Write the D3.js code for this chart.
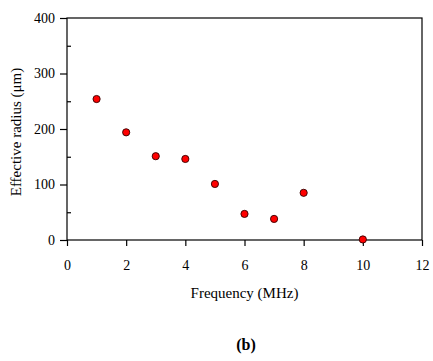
<!DOCTYPE html>
<html>
<head>
<meta charset="utf-8">
<script src="https://cdn.jsdelivr.net/npm/d3@7"></script>
<style>
  body { margin: 0; background: #fff; }
  svg text { font-family: "Liberation Serif", "Times New Roman", serif; }
</style>
</head>
<body>
<div id="chart"></div>
<script>
// Data
const frequency = [1, 2, 3, 4, 5, 6, 7, 8, 10];
const radius = [254, 194, 151, 146, 101, 47, 38, 85, 1];
const xTicks = [0, 2, 4, 6, 8, 10, 12];
const yTicks = [0, 100, 200, 300, 400];
const yMinorTicks = [50, 150, 250, 350];

const W = 433, H = 361;
const margin = { top: 18, right: 11, bottom: 121, left: 67 };
const width = W - margin.left - margin.right,
      height = H - margin.top - margin.bottom;

const svg = d3.select("#chart").append("svg")
    .attr("width", W)
    .attr("height", H);

const g = svg.append("g")
    .attr("transform", `translate(${margin.left},${margin.top})`);

// Scales
const x = d3.scaleLinear().domain([0, 12]).range([0, width]);
const y = d3.scaleLinear().domain([0, 400]).range([height, 0]);

// Frame
g.append("rect")
    .attr("width", width)
    .attr("height", height)
    .attr("fill", "none")
    .attr("stroke", "#000")
    .attr("stroke-width", 1.2);

// X axis
const xAxis = g.append("g")
    .attr("transform", `translate(0,${height})`)
    .call(d3.axisBottom(x).tickValues(xTicks).tickSize(6).tickPadding(14));
xAxis.select(".domain").remove();

// Y axis, major ticks outside
const yAxis = g.append("g")
    .call(d3.axisLeft(y).tickValues(yTicks).tickSize(7).tickPadding(5));
yAxis.select(".domain").remove();

// Y minor ticks inside
g.append("g")
    .call(d3.axisLeft(y).tickValues(yMinorTicks).tickSize(-4).tickFormat(""))
    .select(".domain").remove();

svg.selectAll(".tick line").attr("stroke", "#000").attr("stroke-width", 1.2);
svg.selectAll(".tick text")
    .attr("fill", "#000")
    .style("font-size", "14px")
    .style("font-family", "'Liberation Serif', serif");

// Points
g.selectAll("circle")
    .data(frequency)
    .enter()
    .append("circle")
    .attr("cx", (d, i) => x(d))
    .attr("cy", (d, i) => y(radius[i]))
    .attr("r", 3.6)
    .attr("fill", "#ff0000")
    .attr("stroke", "#300")
    .attr("stroke-width", 0.9);

// X label
svg.append("text")
    .attr("x", margin.left + width / 2)
    .attr("y", 298)
    .attr("text-anchor", "middle")
    .style("font-size", "15px")
    .text("Frequency (MHz)");

// Y label
svg.append("text")
    .attr("transform", "rotate(-90)")
    .attr("x", -132)
    .attr("y", 21)
    .attr("text-anchor", "middle")
    .style("font-size", "15px")
    .text("Effective radius (μm)");

// Panel label
svg.append("text")
    .attr("x", 246)
    .attr("y", 350)
    .attr("text-anchor", "middle")
    .style("font-size", "16px")
    .style("font-weight", "bold")
    .text("(b)");
</script>
</body>
</html>
